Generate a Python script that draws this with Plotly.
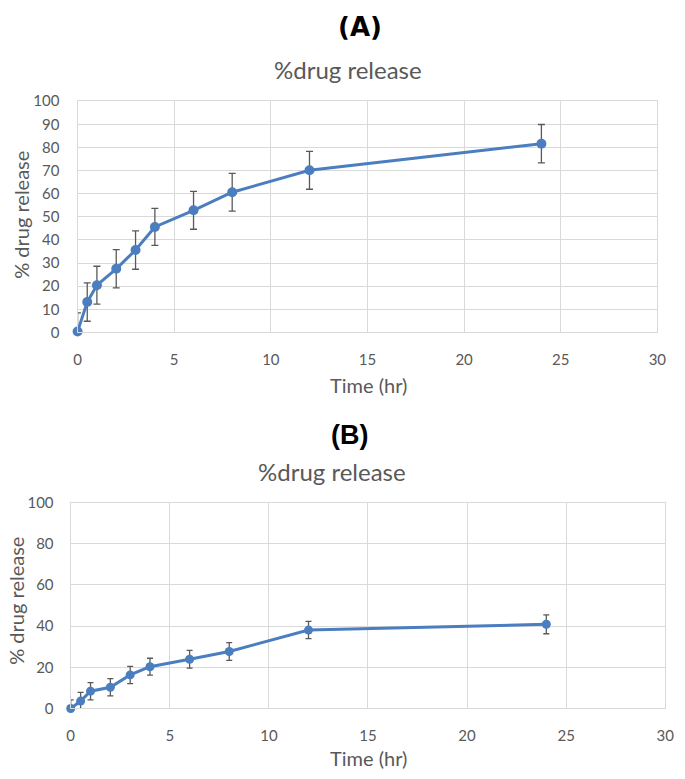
import plotly.graph_objects as go

time_hr = [0, 0.5, 1, 2, 3, 4, 6, 8, 12, 24]
release_a = [0.4, 13.1, 20.4, 27.5, 35.6, 45.6, 52.8, 60.6, 70.1, 81.6]
err_a = [8.0, 8.3, 8.2, 8.3, 8.3, 8.0, 8.2, 8.2, 8.2, 8.3]
release_b = [0.0, 3.6, 8.4, 10.3, 16.3, 20.3, 23.9, 27.7, 38.1, 40.9]
err_b = [4.2, 4.2, 4.2, 4.2, 4.2, 4.1, 4.3, 4.3, 4.2, 4.6]

x_ticks = [0, 5, 10, 15, 20, 25, 30]
y_ticks_a = list(range(0, 101, 10))
y_ticks_b = list(range(0, 101, 20))

W, H = 685, 779
FONT = "Lato, 'Open Sans', sans-serif"
BLUE = "#4a7ebf"
GRID = "#d9d9d9"
TXT = "#595959"

def px(x):
    return x / W

def py(y):
    return 1 - y / H

fig = go.Figure()
fig.add_trace(go.Scatter(
    x=time_hr, y=release_a, mode="lines+markers", cliponaxis=False,
    line=dict(color=BLUE, width=3), marker=dict(color=BLUE, size=10),
    error_y=dict(type="data", array=err_a, color="#595959", thickness=1.3, width=3.5),
    xaxis="x", yaxis="y", showlegend=False))
fig.add_trace(go.Scatter(
    x=time_hr, y=release_b, mode="lines+markers", cliponaxis=False,
    line=dict(color=BLUE, width=3), marker=dict(color=BLUE, size=9),
    error_y=dict(type="data", array=err_b, color="#595959", thickness=1.3, width=3),
    xaxis="x2", yaxis="y2", showlegend=False))

axis_common = dict(showgrid=True, gridcolor=GRID, gridwidth=1.3, zeroline=False,
                   showline=True, linecolor=GRID, linewidth=1.3, mirror=True,
                   tickfont=dict(family=FONT, size=15, color=TXT),
                   ticks="outside", tickcolor="rgba(0,0,0,0)")

fig.update_layout(
    width=W, height=H, margin=dict(l=0, r=0, t=0, b=0),
    paper_bgcolor="white", plot_bgcolor="white",
    xaxis=dict(domain=[px(75), px(666)], range=[0, 30], tickvals=x_ticks,
               anchor="y", ticklen=13, **axis_common),
    yaxis=dict(domain=[py(330), py(93.3)], range=[0, 100], tickvals=y_ticks_a,
               anchor="x", ticklen=14, **axis_common),
    xaxis2=dict(domain=[px(68), px(674)], range=[0, 30], tickvals=x_ticks,
                anchor="y2", ticklen=13, **axis_common),
    yaxis2=dict(domain=[py(715), py(504.3)], range=[0, 100], tickvals=y_ticks_b,
                anchor="x2", ticklen=13, **axis_common),
)

ann = []
def text(x, y, s, size, color=TXT, angle=0, family=FONT):
    ann.append(dict(x=px(x), y=py(y), xref="paper", yref="paper", text=s,
                    showarrow=False, textangle=angle, xanchor="center", yanchor="middle",
                    font=dict(family=family, size=size, color=color)))

text(363, 17, "<b>(A)</b>", 26, color="black", family="'DejaVu Sans', sans-serif")
text(351, 61, "%drug release", 24)
text(372, 384, "Time (hr)", 20)
text(17, 210, "% drug release", 20, angle=-90)

text(352, 435, "<b>(B)</b>", 27, color="black", family="'Liberation Sans', Arial, sans-serif")
text(334, 472, "%drug release", 24)
text(372, 766, "Time (hr)", 20)
text(12, 605, "% drug release", 20, angle=-90)

fig.update_layout(annotations=ann)
fig.write_html(
    "out.html",
    config={"displayModeBar": False},
    post_script="document.body.style.margin='0px';document.body.style.overflow='hidden';",
)
